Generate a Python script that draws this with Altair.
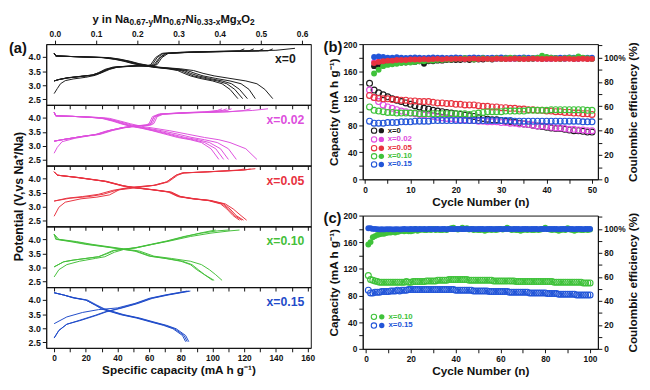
import altair as alt
import pandas as pd

FONT = "Liberation Sans, Arial, Helvetica, sans-serif"
INK = "#111111"

# ------------------------------------------------------------------
# panel (a): charge / discharge curves, capacity (mA h/g) vs potential (V)
# ------------------------------------------------------------------
# x = 0
X0_DIS_V = [4.14, 4.04, 4.02, 3.98, 3.92, 3.85, 3.76, 3.70, 3.64, 3.58, 3.52, 3.42, 3.33, 3.24, 3.15, 3.05, 2.85, 2.52]
X0_DIS_CAP = [
    [0, 1, 10, 30, 38, 44, 50, 56, 62, 72, 78, 82, 86, 92, 100, 106, 111, 116],
    [0, 1, 10, 31, 39, 45, 51, 57, 63, 73, 80, 84, 88, 95, 103, 109, 114, 119],
    [0, 1, 10, 32, 40, 46, 52, 58, 64, 75, 82, 86, 91, 98, 106, 112, 117, 122],
    [0, 1, 10, 33, 41, 47, 53, 59, 65, 77, 84, 89, 94, 102, 111, 118, 123, 127],
    [0, 1, 10, 35, 42, 48, 54, 60, 66, 80, 88, 94, 101, 111, 121, 128, 133, 138],
]
X0_CH1_V = [2.70, 2.88, 3.05, 3.16, 3.22, 3.28, 3.35, 3.42, 3.52, 3.60, 3.66, 3.69, 3.68, 3.72, 3.95, 4.12, 4.17, 4.20, 4.24, 4.31]
X0_CH1_CAP = [0, 2, 4, 7, 12, 20, 26, 29, 32, 36, 42, 55, 60, 63, 66, 70, 85, 110, 140, 152]
X0_CH_V = [3.15, 3.20, 3.26, 3.31, 3.36, 3.44, 3.56, 3.64, 3.69, 3.68, 3.73, 3.98, 4.13, 4.17, 4.20, 4.22, 4.29]
X0_CH_CAP = [
    [0, 3, 8, 16, 24, 28, 32, 37, 50, 58, 61, 64, 68, 80, 100, 117, 120],
    [0, 3, 8, 16, 24, 28, 33, 38, 51, 59, 62, 65, 69, 82, 104, 123, 126],
    [0, 3, 9, 17, 25, 29, 34, 39, 53, 61, 64, 67, 71, 85, 110, 129, 132],
    [0, 3, 9, 17, 25, 30, 35, 40, 54, 62, 65, 68, 72, 88, 115, 135, 138],
]
# x = 0.02
X2_DIS_V = [4.20, 4.07, 4.05, 4.02, 3.98, 3.88, 3.79, 3.70, 3.63, 3.54, 3.42, 3.30, 3.22, 3.12, 2.90, 2.52]
X2_DIS_CAP = [
    [0, 1, 12, 22, 30, 37, 42, 48, 55, 62, 70, 78, 86, 93, 99, 104],
    [0, 1, 12, 22, 31, 38, 43, 49, 56, 63, 72, 80, 88, 95, 102, 107],
    [0, 1, 12, 23, 32, 39, 44, 50, 57, 65, 74, 83, 91, 98, 105, 110],
    [0, 1, 12, 24, 33, 40, 46, 52, 59, 68, 78, 87, 95, 103, 110, 115],
    [0, 1, 12, 26, 35, 42, 48, 55, 63, 73, 84, 95, 104, 111, 121, 128],
]
X2_CH1_V = [2.74, 2.95, 3.15, 3.27, 3.39, 3.53, 3.65, 3.72, 3.74, 3.80, 4.04, 4.13, 4.18, 4.21, 4.26, 4.32]
X2_CH1_CAP = [0, 2, 5, 13, 25, 33, 43, 53, 59, 61, 63, 67, 87, 106, 125, 135]
X2_CH_V = [3.17, 3.24, 3.35, 3.41, 3.55, 3.65, 3.72, 3.74, 3.80, 4.04, 4.13, 4.18, 4.21, 4.26, 4.32]
X2_CH_CAP = [
    [0, 7, 19, 27, 35, 43, 52, 58, 60, 62, 66, 80, 95, 103, 106],
    [0, 7, 19, 27, 35, 43, 53, 59, 61, 63, 67, 82, 98, 106, 109],
    [0, 7, 19, 28, 36, 44, 54, 60, 62, 64, 68, 84, 101, 109, 112],
    [0, 7, 20, 29, 37, 45, 55, 61, 63, 65, 69, 88, 110, 120, 124],
]
# x = 0.05
X5_DIS_V = [4.24, 4.12, 4.04, 3.90, 3.74, 3.67, 3.60, 3.52, 3.36, 3.28, 3.22, 3.10, 2.92, 2.68, 2.52]
X5_DIS_CAP = [
    [0, 2, 14, 32, 43, 51, 62, 72, 78, 87, 97, 105, 109, 113, 117],
    [0, 2, 14, 32, 43, 51, 62, 73, 79, 88, 98, 106, 110, 114, 118.5],
    [0, 2, 15, 33, 44, 52, 63, 73, 79, 88, 98, 107, 111, 115, 119.5],
    [0, 2, 15, 33, 44, 52, 63, 74, 80, 89, 99, 108, 113, 118, 121.5],
]
X5_CH1_V = [2.66, 2.98, 3.16, 3.28, 3.34, 3.42, 3.60, 3.68, 3.76, 3.88, 4.12, 4.20, 4.24, 4.30, 4.35]
X5_CH1_CAP = [0, 3, 7, 17, 27, 35, 41, 53, 63, 71, 77, 81, 97, 118, 127]
X5_CH_V = [3.20, 3.30, 3.36, 3.44, 3.58, 3.68, 3.76, 3.88, 4.12, 4.20, 4.24, 4.30, 4.34]
X5_CH_CAP = [
    [0, 8, 18, 28, 37, 47, 63, 71, 77, 81, 97, 116, 120],
    [0, 10, 22, 31, 39, 48, 64, 72, 78, 82, 98, 120, 124],
]
# x = 0.10
X10_DIS_V = [4.18, 4.00, 3.92, 3.82, 3.74, 3.66, 3.58, 3.40, 3.32, 3.22, 3.10, 2.92, 2.74, 2.54]
X10_DIS_CAP = [
    [0, 2, 12, 22, 32, 42, 52, 61, 71, 81, 87, 91, 95, 100],
    [0, 1, 10, 20, 31, 41, 51, 60, 70, 80, 86, 90, 95, 101],
    [0, 3, 14, 24, 34, 44, 54, 63, 74, 86, 93, 98, 102, 106],
]
X10_CH1_V = [2.66, 2.92, 3.10, 3.22, 3.32, 3.38, 3.54, 3.64, 3.70, 3.82, 3.94, 4.10, 4.22, 4.30, 4.33]
X10_CH1_CAP = [0, 3, 8, 16, 26, 32, 38, 44, 52, 62, 73, 86, 99, 111, 117]
X10_CH_V = [3.02, 3.20, 3.26, 3.32, 3.38, 3.50, 3.60, 3.64, 3.70, 3.82, 3.94, 4.10, 4.22, 4.30, 4.33]
X10_CH_CAP = [
    [0, 6, 12, 20, 28, 33, 37, 42, 51, 61, 71, 82, 93, 103, 110],
    [0, 6, 12, 20, 28, 34, 38, 43, 52, 62, 72, 83, 92, 99, 102],
]
# x = 0.15
X15_DIS_V = [4.26, 4.18, 4.08, 4.00, 3.82, 3.68, 3.48, 3.36, 3.22, 3.10, 2.98, 2.74, 2.52]
X15_DIS_CAP = [
    [0, 6, 12, 20, 26, 30, 42, 52, 61, 69, 75, 81, 83],
    [0, 6, 12, 20, 26, 31, 43, 53, 62, 70, 76, 82, 84],
    [0, 6, 13, 21, 27, 32, 44, 54, 63, 71, 77, 83, 85],
]
X15_CH1_V = [2.65, 2.92, 3.14, 3.28, 3.46, 3.58, 3.72, 3.88, 4.06, 4.18, 4.26, 4.32]
X15_CH1_CAP = [
    [0, 3, 8, 16, 26, 32, 42, 52, 61, 71, 79, 85],
    [0, 3, 8, 17, 27, 33, 43, 53, 62, 72, 80, 86],
]
X15_CH_V = [3.16, 3.40, 3.56, 3.66, 3.72, 3.88, 4.06, 4.18, 4.26, 4.32]
X15_CH_CAP = [[0, 8, 18, 28, 40, 51, 60, 70, 78, 84]]

# ------------------------------------------------------------------
# panel (b): cycles 1-50, discharge capacity (open) and coulombic efficiency (filled, from cycle 2)
# ------------------------------------------------------------------
CAP_B = {
    "x=0": [142, 132, 128, 125, 122, 119, 117, 115, 113, 111, 109, 107, 105, 104, 102, 101, 100, 99, 98, 97,
            96, 95, 94, 93, 91, 90, 89, 88, 88, 87, 86, 85, 84, 83, 82, 81, 80, 79, 78, 77,
            76, 75, 75, 74, 73, 72, 72, 71, 70, 70],
    "x=0.02": [132, 121, 115, 110, 107, 105, 103, 101, 100, 98, 97, 96, 95, 94, 93, 92, 91, 90, 90, 89,
               88, 88, 87, 87, 86, 86, 85, 85, 85, 84, 84, 83, 83, 82, 82, 81, 80, 79, 79, 78,
               77, 76, 76, 75, 74, 74, 73, 73, 72, 72],
    "x=0.05": [124, 121, 120, 119, 119, 118, 118, 117, 117, 116, 116, 115, 115, 115, 114, 113, 113, 112, 112, 111,
               111, 110, 110, 110, 109, 108, 108, 107, 107, 106, 106, 105, 105, 104, 104, 103, 103, 102, 102, 101,
               101, 100, 100, 99, 99, 98, 98, 97, 97, 96],
    "x=0.10": [107, 102, 101, 100, 99, 99, 98, 98, 98, 98, 98, 97, 97, 97, 97, 97, 97, 97, 97, 97,
               97, 97, 96, 97, 98, 99, 100, 100, 100, 100, 101, 101, 101, 101, 101, 102, 102, 102, 102, 102,
               103, 103, 103, 103, 103, 103, 103, 103, 102, 102],
    "x=0.15": [86, 83, 83, 83, 84, 84, 84, 85, 85, 85, 86, 86, 86, 86, 87, 87, 87, 87, 87, 87,
               87, 87, 87, 87, 87, 87, 87, 87, 87, 87, 87, 87, 86, 86, 86, 86, 86, 86, 86, 86,
               86, 86, 86, 86, 86, 86, 86, 85, 85, 85],
}
CE_B = {
    "x=0": [93, 94, 94, 95, 95, 95.5, 96, 96, 96.5, 96.5, 97, 95, 97, 97, 97.5, 97.5, 98, 98, 98,
            98, 98.5, 98, 98.5, 98.5, 98.5, 99, 98.5, 99, 99, 99, 99, 99, 99, 99.5, 99, 99, 99.5, 99, 99,
            99, 99.5, 99, 99, 99.5, 99, 99, 99.5, 99, 99],
    "x=0.02": [96.5, 97, 97.5, 98, 98, 98.5, 98.5, 98.5, 98.5, 99, 99, 98.5, 99, 99, 99, 99.5, 99, 99, 99.5,
               99, 99, 99.5, 99, 99, 99.5, 99, 99.5, 99, 99, 99.5, 99, 99, 99.5, 99, 99, 99.5, 99, 99.5, 99,
               99, 99.5, 99, 99, 99.5, 99, 99, 99.5, 99, 99],
    "x=0.05": [95.5, 96.5, 97, 97.5, 97.5, 98, 98, 98, 98.5, 98.5, 98.5, 98.8, 98.5, 98.8, 99, 98.6, 99, 98.8, 99,
               99, 98.8, 99, 99.2, 98.8, 99, 99, 98.8, 99.2, 99, 98.8, 99, 99.2, 99, 98.8, 99, 99.2, 99, 98.9, 99,
               99.1, 98.9, 99, 99.2, 99, 98.8, 99, 99.1, 98.9, 99],
    "x=0.10": [87, 90, 93, 94, 94.5, 95, 95.5, 96, 96, 96.5, 97, 97, 97.5, 97.5, 98, 98, 98.5, 98.5, 99,
               99, 99.5, 99, 98.5, 99, 99.5, 99, 99, 99.5, 99, 99.5, 100, 99.5, 99, 99.5, 99, 99.5, 100, 101.5, 100.5,
               100, 99.5, 99, 99.5, 100, 99.5, 101, 100, 99.5, 99],
    "x=0.15": [100.5, 101, 100.5, 100, 100, 100.3, 100, 99.8, 100, 100.2, 100, 99.8, 100, 100.2, 100, 100, 99.8, 100, 100.2,
               100, 99.8, 100, 100.2, 100, 100, 99.8, 100, 100, 100.2, 100, 99.8, 100, 100, 100.2, 100, 99.8, 100, 100, 100.2,
               100, 99.8, 100, 100, 100.2, 100, 100, 99.8, 100, 100],
}
CE_B_FIRST_CYCLE = 2

# ------------------------------------------------------------------
# panel (c): cycles 1-100 for x=0.10 and x=0.15
# ------------------------------------------------------------------
CAP_C = {
    "x=0.10": [110, 104, 103, 102, 101, 100, 100, 100, 100, 100,
               100, 100, 100, 100, 100, 100, 100, 101, 100, 100,
               101, 101, 101, 101, 101, 101, 102, 102, 102, 102,
               102, 103, 103, 103, 103, 103, 104, 104, 104, 104,
               104, 104, 104, 104, 104, 103, 103, 103, 103, 103,
               103, 103, 103, 103, 103, 103, 102, 102, 102, 102,
               102, 102, 102, 102, 102, 102, 101, 101, 101, 101,
               101, 101, 101, 101, 101, 101, 101, 101, 101, 101,
               101, 101, 101, 100, 100, 100, 100, 100, 100, 100,
               100, 100, 100, 100, 100, 100, 99, 99, 99, 99],
    "x=0.15": [88, 84, 84, 85, 85, 85, 86, 86, 86, 86,
               87, 87, 87, 88, 87, 88, 88, 88, 89, 89,
               89, 89, 89, 89, 89, 89, 89, 89, 89, 89,
               89, 89, 89, 89, 89, 89, 89, 89, 89, 88,
               88, 88, 88, 88, 88, 88, 88, 87, 87, 87,
               87, 87, 87, 87, 86, 86, 86, 86, 86, 86,
               86, 86, 86, 85, 85, 85, 85, 85, 85, 85,
               85, 85, 84, 84, 84, 84, 84, 84, 84, 84,
               83, 83, 83, 83, 83, 82, 82, 82, 82, 82,
               82, 82, 82, 81, 81, 81, 81, 81, 81, 81],
}
CE_C = {
    "x=0.10": [87, 89, 93, 94, 95, 95.5, 96, 96, 96.5, 97,
               97, 97.5, 97, 97.5, 98, 98.5, 98, 98.5, 98, 98,
               98.5, 100, 98.5, 99, 99.5, 99, 99, 99.5, 99, 100,
               99, 99.5, 99, 99, 99.5, 99, 100, 100.5, 101, 100,
               99.5, 100, 101, 100, 100.5, 99.5, 100, 99, 99.5, 99,
               99, 99.5, 98.5, 99, 99.5, 99, 99.5, 99, 99.5, 100,
               99.5, 100, 101, 100, 99, 99.5, 99, 99, 98.5, 99,
               99.5, 99, 99.5, 99, 99, 99.5, 99, 99.5, 100, 101,
               100, 99.5, 99, 99.5, 99, 98.5, 99, 99.5, 99, 100.5,
               99.5, 99, 98.5, 99, 99.5, 99, 99, 99.5, 99, 99.5],
    "x=0.15": [100.5, 100.5, 100, 100, 99.8, 99.6, 99.7, 99.6, 99.8, 99.7,
               99.8, 99.6, 99.7, 99.8, 99.6, 99.7, 100, 99.8, 99.7, 99.9,
               99.8, 100, 99.7, 99.9, 99.8, 100, 99.7, 99.9, 100, 99.8,
               99.9, 100, 99.8, 100, 99.9, 99.7, 100, 99.9, 99.8, 100,
               99.9, 100, 99.8, 99.9, 100, 99.8, 99.9, 100, 99.8, 99.9,
               100, 99.9, 99.8, 100, 99.9, 100, 99.8, 99.9, 100, 99.9,
               99.8, 100, 99.9, 100, 99.8, 99.9, 100, 99.9, 99.8, 100,
               99.9, 100, 99.8, 99.9, 100, 99.9, 99.8, 100, 99.9, 100,
               99.8, 99.9, 100, 99.9, 100, 99.8, 99.9, 100, 99.9, 99.8,
               100, 99.9, 99.8, 100, 99.9, 100, 99.8, 99.9, 100, 99.9],
}

SERIES = ["x=0", "x=0.02", "x=0.05", "x=0.10", "x=0.15"]
LINE_COLORS = ["#1a1a1a", "#dd4fdd", "#e8323f", "#45bf3a", "#1f4bc9"]
MARK_COLORS = ["#1a1a1a", "#e04ce0", "#e8323f", "#3fc23a", "#2255d8"]
TOP_TICKS = [0.0, 0.1, 0.2, 0.3, 0.4, 0.5, 0.6]
A_YTICKS = [2.5, 3.0, 3.5, 4.0]

PANEL_A = [
    ("x=0", X0_DIS_V, X0_DIS_CAP, [(X0_CH1_V, X0_CH1_CAP)] + [(X0_CH_V, c) for c in X0_CH_CAP]),
    ("x=0.02", X2_DIS_V, X2_DIS_CAP, [(X2_CH1_V, X2_CH1_CAP)] + [(X2_CH_V, c) for c in X2_CH_CAP]),
    ("x=0.05", X5_DIS_V, X5_DIS_CAP, [(X5_CH1_V, X5_CH1_CAP)] + [(X5_CH_V, c) for c in X5_CH_CAP]),
    ("x=0.10", X10_DIS_V, X10_DIS_CAP, [(X10_CH1_V, X10_CH1_CAP)] + [(X10_CH_V, c) for c in X10_CH_CAP]),
    ("x=0.15", X15_DIS_V, X15_DIS_CAP, [(X15_CH1_V, c) for c in X15_CH1_CAP] + [(X15_CH_V, c) for c in X15_CH_CAP]),
]

# ------------------------------------------------------------------
# layout constants
# ------------------------------------------------------------------
A_W, A_H = 270, 62
B_W, B_H, C_H = 240, 138, 136
TICK_FS = 8.5
TITLE_FS = 12

# width table (Arial/Liberation Sans Bold, per 1000 em) used to lay out the composite formula
CW = {' ': 278, 'a': 556, 'g': 611, 'i': 278, 'n': 611, 'y': 556, 'x': 556, 'M': 833,
      'N': 722, 'O': 778, '.': 278, '-': 333}


def text_w(s, fs):
    return sum(CW.get(ch, 556) for ch in s) * fs / 1000.0


def formula_frame(center_px, base_y):
    segs = [("y in Na", 0), ("0.67-y", 1), ("Mn", 0), ("0.67", 1), ("Ni", 0),
            ("0.33-x", 1), ("Mg", 0), ("x", 1), ("O", 0), ("2", 1)]
    main_fs, sub_fs = 11.5, 8.5
    widths = [text_w(s, sub_fs if sub else main_fs) for s, sub in segs]
    x = center_px - sum(widths) / 2.0
    rows = []
    for (s, sub), w in zip(segs, widths):
        rows.append({"t": s, "px": x, "py": base_y + (3 if sub else 0), "fs": sub_fs if sub else main_fs})
        x += w
    return pd.DataFrame(rows)


def curves_frame(dis_v, dis_caps, charges):
    rows = []
    cid = 0
    for caps in dis_caps:
        for i, (c, v) in enumerate(zip(caps, dis_v)):
            rows.append({"curve": cid, "i": i, "cap": c, "v": v})
        cid += 1
    for vs, caps in charges:
        for i, (c, v) in enumerate(zip(caps, vs)):
            rows.append({"curve": cid, "i": i, "cap": c, "v": v})
        cid += 1
    return pd.DataFrame(rows)


A_XSCALE = alt.Scale(domain=[-5, 162], nice=False, zero=False)
A_YSCALE = alt.Scale(domain=[2.3, 4.46], nice=False, zero=False)


def subpanel(idx, key, dis_v, dis_caps, charges, color):
    df = curves_frame(dis_v, dis_caps, charges)
    bottom = idx == len(PANEL_A) - 1
    xaxis = alt.Axis(values=list(range(0, 161, 10)),
                     labelExpr="datum.value % 20 == 0 ? datum.label : ''",
                     labels=bottom, labelFontSize=TICK_FS, labelOverlap=False,
                     title="Specific capacity (mA h g\u207b\u00b9)" if bottom else None)
    yaxis = alt.Axis(values=A_YTICKS, format=".1f", labelFontSize=9, labelOverlap=False,
                     title="Potential (V,vs Na\u207a/Na)" if idx == 2 else None,
                     titleFontSize=12.5)
    line = alt.Chart(df).mark_line(color=color, strokeWidth=1.0, clip=True).encode(
        x=alt.X("cap:Q", scale=A_XSCALE, axis=xaxis),
        y=alt.Y("v:Q", scale=A_YSCALE, axis=yaxis),
        detail="curve:N", order="i:Q")
    ann = alt.Chart(pd.DataFrame({"cap": [146], "v": [3.92], "t": [key]})).mark_text(
        color=color, fontSize=12.5, fontWeight="bold", font=FONT).encode(
        x=alt.X("cap:Q", scale=A_XSCALE, axis=xaxis),
        y=alt.Y("v:Q", scale=A_YSCALE, axis=yaxis), text="t:N")
    inner = alt.layer(line, ann)
    if idx == 0:
        top = alt.Chart(pd.DataFrame({"yna": TOP_TICKS})).mark_tick(opacity=0).encode(
            x=alt.X("yna:Q", scale=alt.Scale(domain=[-0.021, 0.621], nice=False, zero=False),
                    axis=alt.Axis(orient="top", values=TOP_TICKS, format=".1f", title=None,
                                  labelFontSize=TICK_FS, labelOverlap=False)))
        formula = alt.Chart(formula_frame(130, -22)).mark_text(
            align="left", baseline="alphabetic", fontWeight="bold", font=FONT, color=INK).encode(
            x=alt.X("px:Q", scale=None), y=alt.Y("py:Q", scale=None),
            size=alt.Size("fs:Q", scale=None), text="t:N")
        tag = alt.Chart(pd.DataFrame({"t": ["(a)"]})).mark_text(
            align="left", baseline="middle", fontSize=15, fontWeight="bold", font=FONT, color=INK).encode(
            x=alt.value(-38), y=alt.value(4), text="t:N")
        return alt.layer(inner, top, formula, tag).resolve_scale(x="independent").properties(
            width=A_W, height=A_H)
    return inner.properties(width=A_W, height=A_H)


left = alt.vconcat(*[subpanel(i, k, dv, dc, ch, LINE_COLORS[i])
                     for i, (k, dv, dc, ch) in enumerate(PANEL_A)], spacing=0, bounds="flush")


def cycle_frames(cap_map, ce_map, ce_first, order):
    cap_rows, ce_rows = [], []
    for s in order:
        for n, v in enumerate(cap_map[s], start=1):
            cap_rows.append({"cycle": n, "series": s, "cap": v})
        for n, v in enumerate(ce_map[s], start=ce_first):
            ce_rows.append({"cycle": n, "series": s, "ce": v})
    return pd.DataFrame(cap_rows), pd.DataFrame(ce_rows)


def cycle_panel(cap_map, ce_map, ce_first, cap_order, ce_order, xdomain, xstep, xlabstep,
                legend_y, legend_x, tag_text, height, pad_top):
    series = [s for s in SERIES if s in cap_map]
    colors = [MARK_COLORS[SERIES.index(s)] for s in series]
    cscale = alt.Scale(domain=series, range=colors)
    cap_df, _ = cycle_frames(cap_map, ce_map, ce_first, cap_order)
    _, ce_df = cycle_frames(cap_map, ce_map, ce_first, ce_order)
    xmax = int(xdomain[1])
    xaxis = alt.Axis(values=list(range(0, xmax + 1, xstep)),
                     labelExpr="datum.value %% %d == 0 ? datum.label : ''" % xlabstep,
                     title="Cycle Number (n)", labelFontSize=TICK_FS, labelOverlap=False)
    yaxis = alt.Axis(values=list(range(0, 201, 20)),
                     labelExpr="datum.value % 40 == 0 ? datum.label : ''",
                     title="Capacity (mA h g\u207b\u00b9)", labelFontSize=TICK_FS,
                     labelOverlap=False)
    xs = alt.Scale(domain=xdomain, nice=False, zero=False)
    ys = alt.Scale(domain=[0, 200], nice=False)
    caps = alt.Chart(cap_df).mark_point(filled=False, size=36, strokeWidth=1.15, opacity=1).encode(
        x=alt.X("cycle:Q", scale=xs, axis=xaxis),
        y=alt.Y("cap:Q", scale=ys, axis=yaxis),
        color=alt.Color("series:N", scale=cscale, legend=None))
    leg = pd.DataFrame({"series": series, "cap": legend_y[:len(series)],
                        "cycle": [legend_x[0]] * len(series)})
    leg_f_df = pd.DataFrame({"series": series, "cap": legend_y[:len(series)],
                             "cycle": [legend_x[1]] * len(series)})
    leg_t_df = pd.DataFrame({"series": series, "cap": legend_y[:len(series)],
                             "cycle": [legend_x[2]] * len(series)})
    lx = alt.X("cycle:Q", scale=xs, axis=xaxis)
    ly = alt.Y("cap:Q", scale=ys, axis=yaxis)
    leg_o = alt.Chart(leg).mark_point(filled=False, size=30, strokeWidth=1.1, opacity=1).encode(
        x=lx, y=ly, color=alt.Color("series:N", scale=cscale, legend=None))
    leg_f = alt.Chart(leg_f_df).mark_point(filled=True, size=30, opacity=1).encode(
        x=lx, y=ly, color=alt.Color("series:N", scale=cscale, legend=None))
    leg_t = alt.Chart(leg_t_df).mark_text(align="left", baseline="middle", fontSize=8,
                                          fontWeight="bold", font=FONT).encode(
        x=lx, y=ly, text="series:N", color=alt.Color("series:N", scale=cscale, legend=None))
    tag = alt.Chart(pd.DataFrame({"t": [tag_text]})).mark_text(
        align="left", baseline="middle", fontSize=15, fontWeight="bold", font=FONT, color=INK).encode(
        x=alt.value(-40), y=alt.value(3), text="t:N")
    layers = [caps, leg_o, leg_f, leg_t, tag]
    if pad_top:
        spacer = alt.Chart(pd.DataFrame({"t": ["."]})).mark_text(
            baseline="top", fontSize=10, opacity=0).encode(
            x=alt.value(0), y=alt.value(-pad_top), text="t:N")
        layers.append(spacer)
    left_group = alt.layer(*layers)
    ce = alt.Chart(ce_df).mark_point(filled=True, size=36, opacity=1).encode(
        x=alt.X("cycle:Q", scale=xs, axis=xaxis),
        y=alt.Y("ce:Q", scale=alt.Scale(domain=[0, 111.11], nice=False),
                axis=alt.Axis(orient="right", values=list(range(0, 111, 10)),
                              labelExpr="datum.value == 100 ? '100%' : (datum.value % 20 == 0 ? datum.label : '')",
                              title="Coulombic efficiency (%)", titleAngle=270, titleBaseline="top",
                              labelFontSize=TICK_FS, labelOverlap=False)),
        color=alt.Color("series:N", scale=cscale, legend=None))
    return alt.layer(left_group, ce).resolve_scale(y="independent").properties(width=B_W, height=height)


panel_b = cycle_panel(CAP_B, CE_B, CE_B_FIRST_CYCLE,
                      ["x=0", "x=0.02", "x=0.05", "x=0.10", "x=0.15"],
                      ["x=0", "x=0.02", "x=0.15", "x=0.10", "x=0.05"],
                      [-0.5, 51.3], 5, 10, [72, 59, 46, 34, 22], [2, 3.6, 5], "(b)", B_H, 29)
panel_c = cycle_panel(CAP_C, CE_C, 1, ["x=0.10", "x=0.15"], ["x=0.10", "x=0.15"],
                      [-1.5, 103.5], 10, 20, [48, 35], [3.5, 7, 10], "(c)", C_H, 0)

right = alt.vconcat(panel_b, panel_c, spacing=37, bounds="flush")

chart = alt.hconcat(left, right, spacing=7).properties(
    padding={"left": 0, "top": 1, "right": 2, "bottom": 2}
).configure_view(stroke=INK, strokeWidth=1).configure_axis(
    domainColor=INK, tickColor=INK, labelColor=INK, titleColor=INK,
    labelFont=FONT, titleFont=FONT, labelFontWeight="bold", titleFontWeight="bold",
    labelFontSize=TICK_FS, titleFontSize=TITLE_FS, tickSize=4, grid=False,
    domainWidth=1, tickWidth=1, labelPadding=2, titlePadding=3, labelOverlap=False
).configure_text(font=FONT)

chart.save("out.html", embed_options={"renderer": "svg", "actions": False})
